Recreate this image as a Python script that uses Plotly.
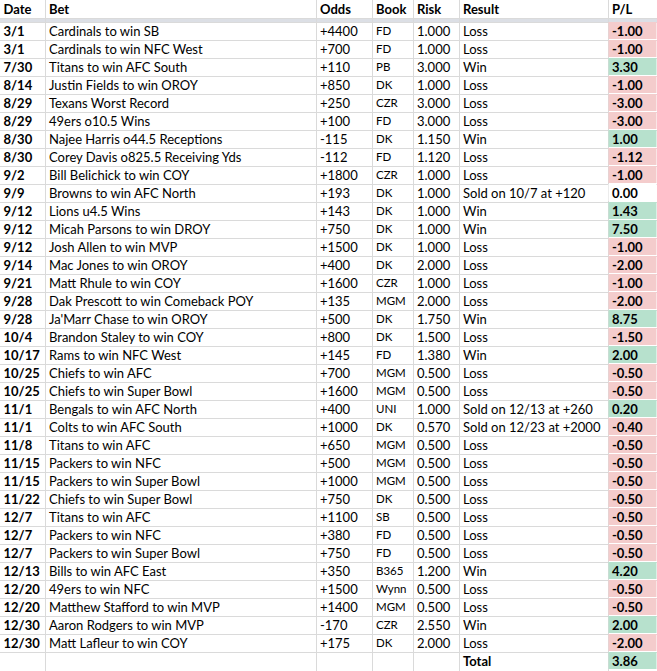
import plotly.graph_objects as go

# bet log
dates = ["3/1", "3/1", "7/30", "8/14", "8/29", "8/29", "8/30", "8/30", "9/2", "9/9",
         "9/12", "9/12", "9/12", "9/14", "9/21", "9/28", "9/28", "10/4", "10/17", "10/25",
         "10/25", "11/1", "11/1", "11/8", "11/15", "11/15", "11/22", "12/7", "12/7", "12/7",
         "12/13", "12/20", "12/20", "12/30", "12/30"]
bets = ["Cardinals to win SB", "Cardinals to win NFC West", "Titans to win AFC South",
        "Justin Fields to win OROY", "Texans Worst Record", "49ers o10.5 Wins",
        "Najee Harris o44.5 Receptions", "Corey Davis o825.5 Receiving Yds",
        "Bill Belichick to win COY", "Browns to win AFC North", "Lions u4.5 Wins",
        "Micah Parsons to win DROY", "Josh Allen to win MVP", "Mac Jones to win OROY",
        "Matt Rhule to win COY", "Dak Prescott to win Comeback POY", "Ja'Marr Chase to win OROY",
        "Brandon Staley to win COY", "Rams to win NFC West", "Chiefs to win AFC",
        "Chiefs to win Super Bowl", "Bengals to win AFC North", "Colts to win AFC South",
        "Titans to win AFC", "Packers to win NFC", "Packers to win Super Bowl",
        "Chiefs to win Super Bowl", "Titans to win AFC", "Packers to win NFC",
        "Packers to win Super Bowl", "Bills to win AFC East", "49ers to win NFC",
        "Matthew Stafford to win MVP", "Aaron Rodgers to win MVP", "Matt Lafleur to win COY"]
odds = ["+4400", "+700", "+110", "+850", "+250", "+100", "-115", "-112", "+1800", "+193",
        "+143", "+750", "+1500", "+400", "+1600", "+135", "+500", "+800", "+145", "+700",
        "+1600", "+400", "+1000", "+650", "+500", "+1000", "+750", "+1100", "+380", "+750",
        "+350", "+1500", "+1400", "-170", "+175"]
books = ["FD", "FD", "PB", "DK", "CZR", "FD", "DK", "FD", "CZR", "DK",
         "DK", "DK", "DK", "DK", "CZR", "MGM", "DK", "DK", "FD", "MGM",
         "MGM", "UNI", "DK", "MGM", "MGM", "MGM", "DK", "SB", "FD", "FD",
         "B365", "Wynn", "MGM", "CZR", "DK"]
risk = [1.0, 1.0, 3.0, 1.0, 3.0, 3.0, 1.15, 1.12, 1.0, 1.0,
        1.0, 1.0, 1.0, 2.0, 1.0, 2.0, 1.75, 1.5, 1.38, 0.5,
        0.5, 1.0, 0.57, 0.5, 0.5, 0.5, 0.5, 0.5, 0.5, 0.5,
        1.2, 0.5, 0.5, 2.55, 2.0]
results = ["Loss", "Loss", "Win", "Loss", "Loss", "Loss", "Win", "Loss", "Loss",
           "Sold on 10/7 at +120", "Win", "Win", "Loss", "Loss", "Loss", "Loss", "Win",
           "Loss", "Win", "Loss", "Loss", "Sold on 12/13 at +260", "Sold on 12/23 at +2000",
           "Loss", "Loss", "Loss", "Loss", "Loss", "Loss", "Loss", "Win", "Loss", "Loss",
           "Win", "Loss"]
pl = [-1.00, -1.00, 3.30, -1.00, -3.00, -3.00, 1.00, -1.12, -1.00, 0.00,
      1.43, 7.50, -1.00, -2.00, -1.00, -2.00, 8.75, -1.50, 2.00, -0.50,
      -0.50, 0.20, -0.40, -0.50, -0.50, -0.50, -0.50, -0.50, -0.50, -0.50,
      4.20, -0.50, -0.50, 2.00, -2.00]
total_pl = 3.86

headers = ["Date", "Bet", "Odds", "Book", "Risk", "Result", "P/L"]

# sheet geometry (pixels)
W, H = 657, 671
col_widths = [45.5, 271, 56, 41, 46, 149, 48.5]
header_h = 18
band_h = 4
row_h = 18
pad = 3.5
text_drop = 1.5  # nudge text down a touch, like the spreadsheet baseline

RED = "#f4cccc"
GREEN = "#b7e1cd"
GRID = "#dadada"
FONT = "Lato, Carlito, Calibri, sans-serif"

edges = [0]
for w in col_widths:
    edges.append(edges[-1] + w)

n_rows = len(dates) + 1  # + total row
top = header_h + band_h
row_edges = [top + i * row_h for i in range(n_rows + 1)]
row_mid = [top + (i + 0.5) * row_h + text_drop for i in range(n_rows)]

columns = [
    [f"<b>{d}</b>" for d in dates] + [""],
    bets + [""],
    odds + [""],
    books + [""],
    [f"{r:.3f}" for r in risk] + [""],
    results + ["<b>Total</b>"],
    [f"<b>{v:.2f}</b>" for v in pl] + [f"<b>{total_pl:.2f}</b>"],
]
sizes = [13, 13, 13, 11.5, 13, 13, 13]

fig = go.Figure()

# P/L conditional fill
pl_all = pl + [total_pl]
sign = [[1 if v > 0 else (-1 if v < 0 else 0)] for v in pl_all]
fig.add_trace(go.Heatmap(
    x=edges[-2:], y=row_edges, z=sign,
    zmin=-1, zmax=1,
    colorscale=[[0, RED], [0.33, RED], [0.33, "white"], [0.67, "white"],
                [0.67, GREEN], [1, GREEN]],
    showscale=False, hoverinfo="skip", xgap=1, ygap=1,
))

# header text
fig.add_trace(go.Scatter(
    x=[e + pad for e in edges[:-1]], y=[header_h / 2 + text_drop] * len(headers),
    text=[f"<b>{h}</b>" for h in headers],
    mode="text", textposition="middle right",
    textfont=dict(family=FONT, size=13, color="black"),
    hoverinfo="skip", showlegend=False,
))

# body text
for j, col in enumerate(columns):
    fig.add_trace(go.Scatter(
        x=[edges[j] + pad] * n_rows, y=row_mid, text=col,
        mode="text", textposition="middle right",
        textfont=dict(family=FONT, size=sizes[j], color="black"),
        hoverinfo="skip", showlegend=False,
    ))

# grey band under the header
fig.add_shape(type="rect", xref="x", yref="y", x0=0, x1=W, y0=header_h, y1=top,
              fillcolor="#dcdfe5", line=dict(width=0), layer="below")

fig.update_xaxes(range=[0, W], tickvals=edges, showgrid=True, gridcolor=GRID,
                 gridwidth=1, showticklabels=False, ticks="", zeroline=False,
                 showline=False, fixedrange=True)
fig.update_yaxes(range=[H, 0], tickvals=[0, header_h] + row_edges, showgrid=True,
                 gridcolor=GRID, gridwidth=1, showticklabels=False, ticks="",
                 zeroline=False, showline=False, fixedrange=True)

fig.update_layout(
    width=W, height=H,
    margin=dict(l=0, r=0, t=0, b=0),
    paper_bgcolor="white", plot_bgcolor="white",
    showlegend=False,
)

# the page body has a default 8px margin; drop it so the sheet sits at 0,0
fig.write_html("out.html", config={"displayModeBar": False},
               post_script="document.body.style.margin='0';")
